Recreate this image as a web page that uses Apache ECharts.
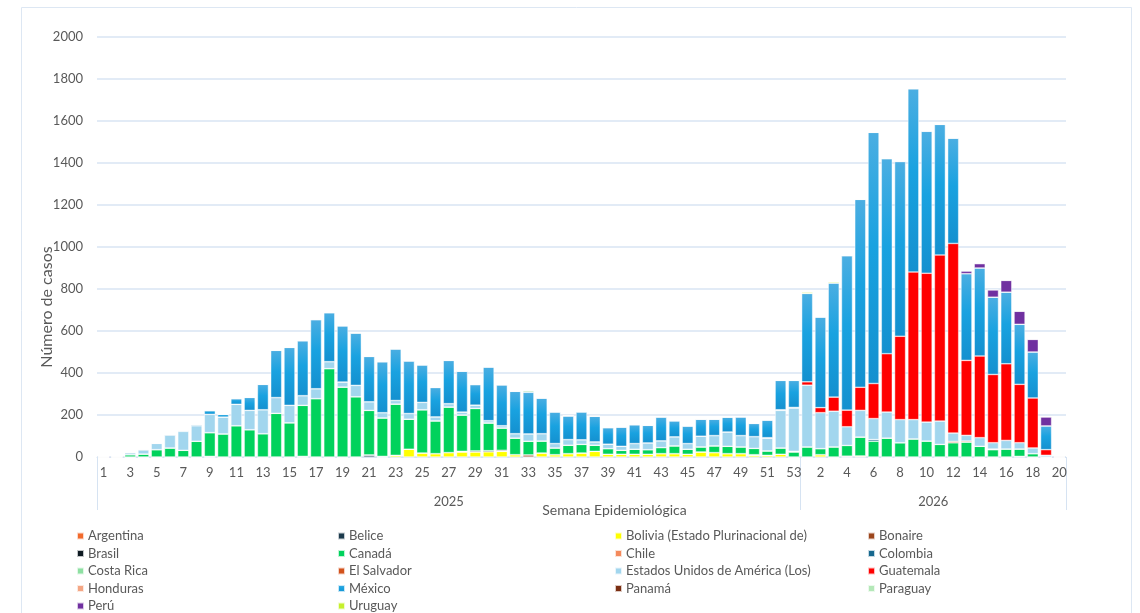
<!DOCTYPE html>
<html>
<head>
<meta charset="utf-8">
<title>Casos por semana epidemiológica</title>
<script src="https://cdn.jsdelivr.net/npm/echarts@6/dist/echarts.min.js"></script>
<style>
  html, body { margin: 0; padding: 0; background: #fff; }
  #echarts-bar-chart { width: 1140px; height: 613px; }
</style>
</head>
<body>
<div id="echarts-bar-chart"></div>
<script>
// semanas epidemiológicas (2025: 1-53, 2026: 1-20)
var semanas = [1, 2, 3, 4, 5, 6, 7, 8, 9, 10, 11, 12, 13, 14, 15, 16, 17, 18, 19, 20,
    21, 22, 23, 24, 25, 26, 27, 28, 29, 30, 31, 32, 33, 34, 35, 36, 37, 38, 39, 40,
    41, 42, 43, 44, 45, 46, 47, 48, 49, 50, 51, 52, 53,
    1, 2, 3, 4, 5, 6, 7, 8, 9, 10, 11, 12, 13, 14, 15, 16, 17, 18, 19, 20];
var anios = ['2025', '2026'];
var limitesAnio = [0, 53, 73];
var yTicks = [0, 2000, 200];

var argentina = [];
var belice = [0, 0, 0, 0, 0, 0, 0, 0, 0, 0, 0, 0, 0, 0, 0, 0, 0, 0, 0, 0,
    10, 0, 0, 0, 0, 0, 0, 0, 0, 0, 0, 0, 0, 0, 0, 0, 0, 0, 0, 0,
    0, 0, 0, 0, 0, 0, 0, 0, 0, 0, 0, 0, 0,
    0, 0, 0, 0, 0, 0, 0, 0, 0, 0, 0, 0, 0, 0, 0, 0, 0, 0, 0, 0];
var bolivia = [0, 0, 0, 0, 0, 0, 0, 0, 0, 0, 0, 0, 0, 0, 0, 0, 0, 0, 0, 0,
    0, 0, 8, 37, 19, 16, 21, 24, 24, 25, 27, 11, 0, 19, 11, 16, 19, 27, 13, 13,
    13, 13, 16, 16, 13, 24, 21, 16, 16, 8, 8, 13, 0,
    0, 11, 0, 0, 5, 0, 0, 0, 0, 0, 0, 0, 0, 0, 0, 0, 3, 0, 0, 0];
var bonaire = [0, 0, 0, 0, 0, 0, 0, 0, 0, 0, 0, 0, 0, 0, 0, 0, 0, 0, 0, 0,
    0, 0, 0, 0, 0, 0, 0, 0, 0, 0, 0, 0, 10, 0, 0, 0, 0, 0, 0, 0,
    0, 0, 0, 0, 0, 0, 0, 0, 0, 0, 0, 0, 0,
    0, 0, 0, 4, 0, 0, 0, 0, 0, 0, 0, 0, 0, 0, 0, 0, 0, 0, 0, 0];
var brasil = [0, 0, 0, 0, 0, 0, 0, 0, 3, 0, 0, 0, 0, 0, 0, 3, 0, 0, 0, 0,
    0, 3, 0, 0, 0, 0, 0, 3, 5, 5, 5, 0, 0, 0, 0, 0, 0, 0, 0, 0,
    0, 0, 0, 0, 0, 0, 0, 0, 0, 3, 0, 0, 0,
    0, 0, 0, 0, 0, 0, 0, 0, 0, 0, 0, 0, 0, 0, 0, 0, 0, 0, 0, 0];
var canada = [0, 0, 11, 14, 35, 43, 32, 75, 113, 110, 149, 130, 111, 208, 163, 243, 278, 421, 333, 287,
    212, 183, 244, 143, 206, 156, 217, 173, 202, 132, 106, 79, 65, 57, 32, 40, 41, 29, 27, 19,
    24, 22, 29, 37, 24, 24, 32, 35, 32, 30, 21, 30, 24,
    48, 29, 48, 51, 90, 75, 90, 68, 86, 76, 60, 68, 71, 51, 35, 38, 35, 16, 0, 0];
var chile = [];
var colombia = [0, 0, 0, 0, 0, 0, 0, 0, 0, 0, 0, 0, 0, 0, 0, 0, 0, 0, 0, 0,
    0, 0, 0, 0, 0, 0, 0, 0, 0, 0, 0, 0, 0, 0, 0, 0, 0, 0, 0, 0,
    0, 0, 0, 0, 0, 0, 0, 0, 0, 0, 0, 0, 0,
    0, 0, 0, 0, 0, 8, 0, 0, 0, 0, 0, 0, 0, 0, 0, 0, 0, 0, 0, 0];
var costaRica = [];
var elSalvador = [0, 0, 0, 0, 0, 0, 0, 0, 0, 0, 0, 0, 0, 0, 0, 0, 0, 0, 0, 0,
    0, 0, 0, 0, 0, 0, 0, 0, 0, 0, 0, 0, 0, 0, 0, 0, 0, 0, 0, 0,
    0, 0, 0, 0, 0, 0, 0, 0, 0, 0, 0, 0, 3,
    0, 0, 0, 0, 0, 0, 0, 0, 0, 0, 0, 6, 5, 0, 3, 0, 0, 0, 0, 0];
var eeuu = [3, 3, 10, 21, 30, 63, 90, 74, 87, 80, 102, 92, 114, 75, 83, 46, 47, 33, 24, 54,
    41, 25, 17, 27, 35, 19, 16, 14, 16, 11, 11, 21, 35, 35, 21, 27, 22, 16, 21, 19,
    27, 32, 32, 43, 27, 51, 49, 68, 54, 56, 60, 179, 206,
    294, 171, 170, 89, 127, 100, 124, 110, 92, 90, 111, 40, 27, 41, 30, 41, 30, 27, 8, 0];
var guatemala = [0, 0, 0, 0, 0, 0, 0, 0, 0, 0, 0, 0, 0, 0, 0, 0, 0, 0, 0, 0,
    0, 0, 0, 0, 0, 0, 0, 0, 0, 0, 0, 0, 0, 0, 0, 0, 0, 0, 0, 0,
    0, 0, 0, 0, 0, 0, 0, 0, 0, 0, 3, 3, 3,
    16, 24, 67, 79, 110, 167, 278, 397, 703, 709, 791, 903, 357, 389, 325, 365, 278, 238, 27, 0];
var honduras = [];
var mexico = [0, 0, 0, 0, 0, 0, 4, 5, 18, 13, 27, 62, 121, 225, 276, 262, 329, 233, 268, 249,
    216, 243, 246, 251, 179, 140, 206, 195, 98, 256, 195, 202, 198, 170, 151, 113, 132, 122, 79, 92,
    90, 84, 114, 76, 84, 81, 78, 71, 89, 63, 84, 140, 129,
    421, 432, 544, 736, 895, 1196, 929, 832, 873, 676, 622, 501, 413, 419, 368, 341, 286, 219, 113, 0];
var panama = [];
var paraguay = [0, 0, 0, 0, 0, 0, 0, 0, 0, 0, 0, 0, 0, 0, 0, 0, 0, 0, 0, 0,
    0, 0, 0, 0, 0, 0, 0, 0, 0, 0, 0, 0, 8, 0, 0, 0, 3, 0, 0, 0,
    0, 0, 0, 0, 0, 0, 0, 0, 0, 0, 0, 0, 0,
    0, 0, 0, 0, 0, 0, 0, 0, 0, 0, 0, 0, 0, 0, 0, 0, 0, 0, 0, 0];
var peru = [0, 0, 0, 0, 0, 0, 0, 0, 0, 0, 0, 0, 0, 0, 0, 0, 2, 3, 0, 3,
    0, 0, 0, 0, 0, 0, 0, 0, 0, 0, 0, 0, 0, 0, 0, 0, 0, 0, 0, 0,
    0, 0, 0, 3, 0, 0, 0, 0, 0, 0, 0, 0, 0,
    0, 0, 0, 0, 0, 0, 0, 3, 0, 3, 0, 3, 13, 21, 35, 56, 62, 60, 43, 0];
var uruguay = [0, 0, 0, 0, 0, 3, 0, 0, 0, 0, 0, 0, 0, 0, 0, 0, 0, 0, 0, 0,
    0, 0, 0, 0, 0, 0, 0, 0, 0, 0, 0, 0, 0, 0, 0, 0, 0, 0, 0, 0,
    0, 0, 0, 0, 0, 3, 3, 3, 3, 3, 3, 0, 0,
    5, 0, 5, 0, 0, 0, 0, 0, 0, 0, 0, 0, 0, 0, 0, 0, 0, 0, 0, 0];

var paises = [
    { name: 'Argentina', data: argentina, color: '#F26A2C' },
    { name: 'Belice', data: belice, color: '#1C3A4C' },
    { name: 'Bolivia (Estado Plurinacional de)', data: bolivia, color: '#FFFF00' },
    { name: 'Bonaire', data: bonaire, color: '#9C461C' },
    { name: 'Brasil', data: brasil, color: '#0E1A22' },
    { name: 'Canadá', data: canada, color: '#00D25C' },
    { name: 'Chile', data: chile, color: '#F48A5C' },
    { name: 'Colombia', data: colombia, color: '#17688E' },
    { name: 'Costa Rica', data: costaRica, color: '#8EE0A2' },
    { name: 'El Salvador', data: elSalvador, color: '#D2521C' },
    { name: 'Estados Unidos de América (Los)', data: eeuu, color: '#A2D6EE' },
    { name: 'Guatemala', data: guatemala, color: '#FF0000' },
    { name: 'Honduras', data: honduras, color: '#F4A684' },
    { name: 'México', data: mexico, color: new echarts.graphic.LinearGradient(0, 0, 0, 1, [
        { offset: 0, color: '#4BAEE2' },
        { offset: 0.45, color: '#19A2E0' },
        { offset: 1, color: '#1490CF' }
    ]) },
    { name: 'Panamá', data: panama, color: '#7A2E12' },
    { name: 'Paraguay', data: paraguay, color: '#B4E8B8' },
    { name: 'Perú', data: peru, color: '#7030A0' },
    { name: 'Uruguay', data: uruguay, color: '#C6F02C' }
];

var categorias = semanas.map(function (s, i) {
    return (i < limitesAnio[1] ? anios[0] : anios[1]) + '-' + s;
});

var gris = '#595959';
var fuente = 'Lato';
var lineaAzul = '#D6E3F2';

var legendBase = {
    orient: 'vertical',
    top: 529,
    padding: 0,
    itemWidth: 7,
    itemHeight: 7,
    itemGap: 3.5,
    icon: 'rect',
    selectedMode: false,
    textStyle: { color: gris, fontSize: 13, fontFamily: fuente, lineHeight: 14, padding: [0, 0, 0, -1] }
};
function legendCol(left, nombres) {
    return Object.assign({}, legendBase, { left: left, data: nombres });
}

var barChart = echarts.init(document.getElementById('echarts-bar-chart'));
var option = {
    animation: false,
    backgroundColor: '#ffffff',
    textStyle: { fontFamily: fuente },
    graphic: [{
        type: 'rect',
        shape: { x: 21.5, y: 7.5, width: 1110, height: 620 },
        style: { fill: 'none', stroke: '#DDE7F3', lineWidth: 1 },
        silent: true
    }],
    grid: { left: 97, right: 74, top: 37, bottom: 156, containLabel: false },
    legend: [
        legendCol(76, ['Argentina', 'Brasil', 'Costa Rica', 'Honduras', 'Perú']),
        legendCol(337, ['Belice', 'Canadá', 'El Salvador', 'México', 'Uruguay']),
        legendCol(614, ['Bolivia (Estado Plurinacional de)', 'Chile', 'Estados Unidos de América (Los)', 'Panamá']),
        legendCol(867, ['Bonaire', 'Colombia', 'Guatemala', 'Paraguay'])
    ],
    xAxis: [
        {
            type: 'category',
            data: categorias,
            position: 'bottom',
            name: 'Semana Epidemiológica',
            nameLocation: 'middle',
            nameGap: 46,
            nameMoveOverlap: false,
            nameTextStyle: { color: gris, fontSize: 14, fontFamily: fuente, padding: [0, 0, 0, 66] },
            axisLine: { lineStyle: { color: lineaAzul, width: 1 } },
            axisTick: { show: false },
            axisLabel: {
                color: gris,
                fontSize: 13,
                margin: 9,
                interval: function (index) {
                    var s = semanas[index];
                    return index < limitesAnio[1] ? (s % 2 === 1) : (s % 2 === 0);
                },
                formatter: function (v) { return v.split('-')[1]; }
            },
            splitLine: { show: false }
        },
        {
            type: 'value',
            position: 'bottom',
            min: limitesAnio[0],
            max: limitesAnio[2],
            axisLine: { show: false },
            splitLine: { show: false },
            axisTick: {
                show: true,
                customValues: limitesAnio,
                length: 53,
                lineStyle: { color: lineaAzul, width: 1 }
            },
            axisLabel: {
                color: gris,
                fontSize: 13,
                margin: 38,
                customValues: [(limitesAnio[0] + limitesAnio[1]) / 2, (limitesAnio[1] + limitesAnio[2]) / 2],
                formatter: function (v) { return v < limitesAnio[1] ? anios[0] : anios[1]; }
            }
        }
    ],
    yAxis: {
        type: 'value',
        min: yTicks[0],
        max: yTicks[1],
        interval: yTicks[2],
        name: 'Número de casos',
        nameLocation: 'middle',
        nameGap: 42,
        nameMoveOverlap: false,
        nameTextStyle: { color: gris, fontSize: 16, fontFamily: fuente, padding: [0, 120, 0, 0] },
        axisLine: { show: false },
        axisTick: { show: false },
        axisLabel: {
            color: gris,
            fontSize: 13,
            margin: 14,
            formatter: function (v) { return String(v); }
        },
        splitLine: { lineStyle: { color: '#D9E5F3', width: 1.5 } }
    },
    series: paises.map(function (p) {
        return {
            name: p.name,
            type: 'bar',
            stack: 'total',
            barCategoryGap: '17%',
            data: p.data,
            itemStyle: {
                color: p.color,
                borderColor: 'rgba(255,255,255,0.75)',
                borderWidth: 0.6
            }
        };
    })
};
barChart.setOption(option);
window.addEventListener('resize', barChart.resize);
</script>
</body>
</html>
